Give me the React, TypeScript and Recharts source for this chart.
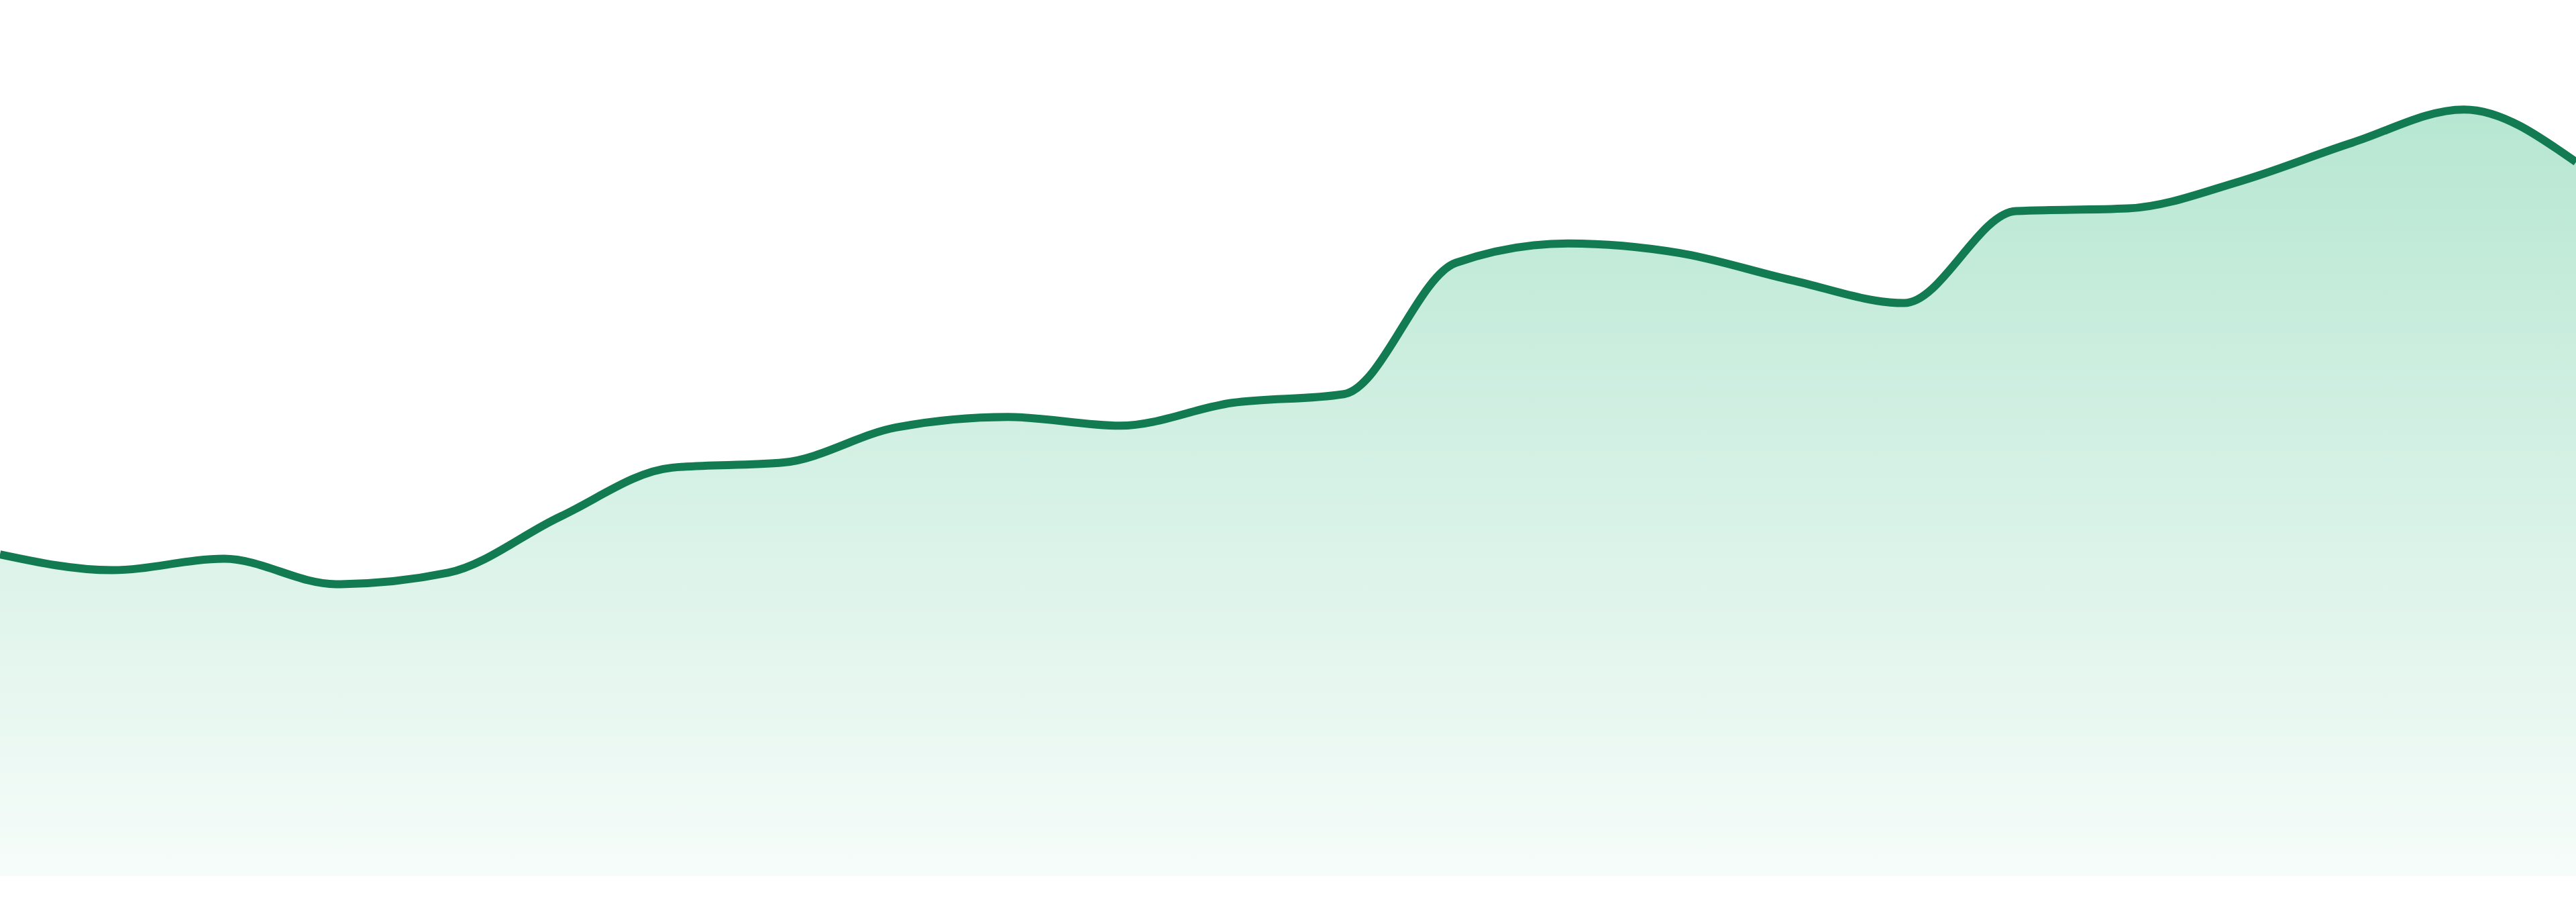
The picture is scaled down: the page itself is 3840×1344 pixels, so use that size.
import { Area, AreaChart, XAxis, YAxis } from "recharts"

// one reading per step, left to right
const periods = [
  "P1", "P2", "P3", "P4", "P5", "P6", "P7", "P8", "P9", "P10", "P11", "P12",
  "P13", "P14", "P15", "P16", "P17", "P18", "P19", "P20", "P21", "P22", "P23", "P24",
]

const values = [
  36.7, 34.9, 36.2, 33.3, 34.6, 41.0, 46.6, 47.2, 51.2, 52.4, 51.4, 54.0,
  55.0, 70.0, 72.2, 71.1, 68.0, 65.4, 75.9, 76.2, 79.3, 83.7, 87.5, 81.5,
]

const yDomain = [0, 100]

const data = periods.map((period, i) => ({ period, value: values[i] }))

export default function App() {
  return (
    <div style={{ position: "absolute", left: 0, top: 0, width: 3840, height: 1344, background: "#fff" }}>
      <AreaChart
        width={3840}
        height={1344}
        data={data}
        margin={{ top: 0, right: 0, bottom: 39, left: 0 }}
      >
        <defs>
          <linearGradient id="fillGreen" x1="0" y1="0" x2="0" y2="1">
            <stop offset="0%" stopColor="#2ab77a" stopOpacity={0.34} />
            <stop offset="100%" stopColor="#2ab77a" stopOpacity={0.04} />
          </linearGradient>
        </defs>
        <XAxis dataKey="period" hide />
        <YAxis domain={yDomain} hide />
        <Area
          type="monotone"
          dataKey="value"
          stroke="#127b52"
          strokeWidth={12}
          fill="url(#fillGreen)"
          fillOpacity={1}
          dot={false}
          activeDot={false}
          isAnimationActive={false}
        />
      </AreaChart>
    </div>
  )
}
